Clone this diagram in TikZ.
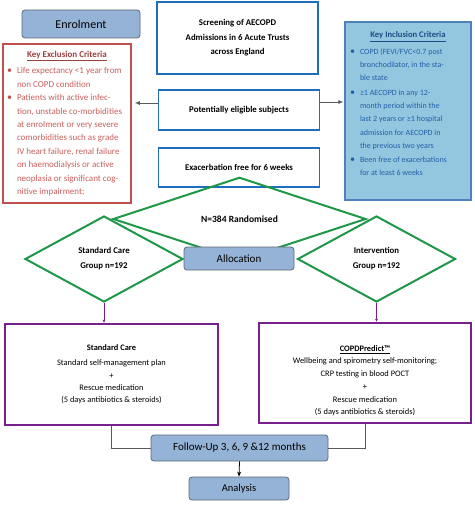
\documentclass[tikz,border=0pt]{standalone}
\usepackage{fontspec}
\setmainfont{Carlito}
\usepackage{tikz}
\usetikzlibrary{arrows.meta,calc,positioning,shapes.geometric}

\definecolor{enrolfill}{RGB}{149,179,215}
\definecolor{boxgray}{RGB}{95,105,120}
\definecolor{exclred}{RGB}{192,80,77}
\definecolor{excltext}{RGB}{200,95,92}
\definecolor{screenblue}{RGB}{31,110,190}
\definecolor{inclfill}{RGB}{147,199,224}
\definecolor{inclborder}{RGB}{79,129,189}
\definecolor{incltext}{RGB}{35,95,165}
\definecolor{randgreen}{RGB}{30,152,72}
\definecolor{armpurple}{RGB}{120,32,140}

% one bullet point of a criteria list (lines split by \newline)
\newcommand{\critpoint}[2]{\par\hangindent=10pt\hangafter=1\noindent
  \makebox[10pt][l]{\textcolor{#1}{\fontsize{10}{10}\selectfont\textbullet}}#2\par}

\begin{document}
\begin{tikzpicture}[x=1pt,y=-1pt,
    greybox/.style={draw=boxgray,fill=enrolfill,rounded corners=3pt,line width=0.8pt,inner sep=0pt},
    bluebox/.style={draw=screenblue,line width=1.8pt,minimum width=161pt,align=center,inner sep=0pt,
      font=\fontsize{8.8}{14.5}\selectfont\bfseries},
    armdia/.style={diamond,draw=randgreen,line width=2pt,inner sep=0pt,minimum width=158pt,
      minimum height=86pt,align=center,font=\fontsize{8.8}{15}\selectfont\bfseries},
    armbox/.style={draw=armpurple,line width=2.2pt,inner sep=0pt,align=center,
      font=\fontsize{8.4}{12.3}\selectfont},
    link/.style={draw=gray!70!black,line width=0.8pt},
    armline/.style={draw=armpurple,line width=1pt,-{Latex[length=3pt,width=3pt]}}
  ]
  \useasboundingbox (0,0) rectangle (474,529);

  % Enrolment and screening
  \node[greybox,minimum width=118pt,minimum height=28pt,font=\fontsize{12}{14}\selectfont]
    (enrol) at (81,24) {Enrolment};
  \node[bluebox,minimum height=72pt] (screen) at (237.5,38)
    {Screening of AECOPD\\Admissions in 6 Acute Trusts\\across England};
  \node[bluebox,minimum height=40pt] (elig) at (239,110) {Potentially eligible subjects};
  \node[bluebox,minimum height=39pt] (exac) at (239,167.5) {Exacerbation free for 6 weeks};

  % Criteria boxes
  \node[draw=exclred,line width=1.6pt,minimum width=128pt,minimum height=159pt,
    inner sep=0pt,text=excltext,font=\fontsize{9}{13.4}\selectfont] (excl) at (67,123.5) {%
    \parbox{120pt}{%
    {\centering\textcolor{exclred!80!black}{\underline{\textbf{Key Exclusion Criteria}}}\par}\vspace{3pt}
    \critpoint{exclred}{Life expectancy <1 year from\newline non COPD condition}
    \critpoint{exclred}{Patients with active infec-\newline tion, unstable co-morbidities\newline
      at enrolment or very severe\newline comorbidities such as grade\newline
      IV heart failure, renal failure\newline on haemodialysis or active\newline
      neoplasia or significant cog-\newline nitive impairment;}}};
  \node[draw=inclborder,fill=inclfill,line width=1.2pt,minimum width=126pt,minimum height=178pt,
    inner sep=0pt,text=incltext,font=\fontsize{8}{13.3}\selectfont] (incl) at (408,111) {%
    \parbox{116pt}{%
    {\centering\fontsize{8.6}{13.3}\selectfont\textcolor{incltext!80!black}{\underline{\textbf{Key Inclusion Criteria}}}\par}\vspace{3pt}
    \critpoint{incltext}{COPD (FEVI/FVC<0.7 post\newline bronchodilator, in the sta-\newline ble state}\vspace{1pt}
    \critpoint{incltext}{≥1 AECOPD in any 12-\newline month period within the\newline
      last 2 years or ≥1 hospital\newline admission for AECOPD in\newline the previous two years}\vspace{1pt}
    \critpoint{incltext}{Been free of exacerbations\newline for at least 6 weeks}\vspace*{14pt}}};
  \draw[link,-{Latex[length=5pt,width=4pt]},shorten >=3pt]
    ([yshift=7pt]elig.west) -- ([yshift=7pt]elig.west -| excl.east);
  \draw[link,-{Latex[length=5pt,width=4pt]},shorten >=1pt]
    ([yshift=8pt]elig.east) -- ([yshift=8pt]elig.east -| incl.west);

  % Randomisation
  \node[armdia,minimum width=253pt,minimum height=48pt,font=\fontsize{9.5}{11}\selectfont\bfseries]
    (rand) at (239.5,219) {N=384 Randomised};
  \node[armdia] (stddia) at (104,259) {Standard Care\\Group n=192};
  \node[armdia] (intdia) at (376.5,259) {Intervention\\Group n=192};
  \node[greybox,minimum width=110pt,minimum height=23pt,font=\fontsize{11}{13}\selectfont]
    (alloc) at (239,258.5) {Allocation};

  % Trial arms
  \node[armbox,minimum width=213pt,minimum height=101pt] (stdcare) at (111.5,374.5)
    {\textbf{Standard Care}\\[2.5pt]Standard self-management plan\\+\\Rescue medication\\(5 days antibiotics \& steroids)};
  \node[armbox,minimum width=212pt,minimum height=100pt] (predict) at (365,373)
    {\mbox{}\\[9pt]\underline{\textbf{COPDPredict™}}\\Wellbeing and spirometry self-monitoring;\\CRP testing in blood POCT\\[1.5pt]+\\Rescue medication\\(5 days antibiotics \& steroids)};
  \draw[armline] (stddia.south) -- (stddia.south |- stdcare.north);
  \draw[armline] (intdia.south) -- (intdia.south |- predict.north);

  % Follow-up and analysis
  \node[greybox,minimum width=177pt,minimum height=26pt,font=\fontsize{11}{13}\selectfont]
    (followup) at (239.5,448) {Follow-Up 3, 6, 9 \&12 months};
  \node[greybox,minimum width=100pt,minimum height=23pt,font=\fontsize{10.5}{12}\selectfont]
    (analysis) at (239,488.5) {Analysis};
  \draw[link] (stdcare.south) |- (followup.west);
  \draw[link] (predict.south) |- (followup.east);
  \draw[line width=0.8pt,-{Stealth[length=5pt,width=4pt]}] (followup.south) -- (analysis.north);
\end{tikzpicture}
\end{document}
